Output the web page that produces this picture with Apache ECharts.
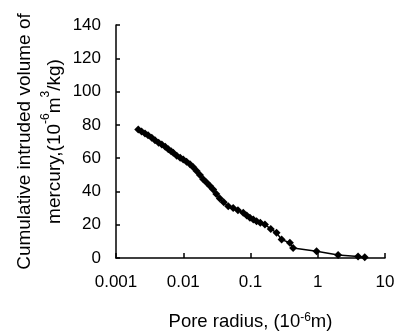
<!DOCTYPE html>
<html>
<head>
<meta charset="utf-8">
<script src="https://cdn.jsdelivr.net/npm/echarts@6/dist/echarts.min.js"></script>
<style>
html,body{margin:0;padding:0;background:#fff;}
#chart{width:394px;height:333px;}
</style>
</head>
<body>
<div id="chart"></div>
<script>
const poreRadius = [0.00214, 0.0024, 0.0027, 0.0030, 0.0034, 0.0038, 0.0043, 0.0048, 0.0054, 0.0060,
  0.0066, 0.0071, 0.0080, 0.0090, 0.010, 0.0112, 0.0126, 0.0141, 0.0158, 0.0177,
  0.0198, 0.0222, 0.0250, 0.0279, 0.031, 0.035, 0.040, 0.0467, 0.0553, 0.065,
  0.078, 0.088, 0.098, 0.11, 0.123, 0.14, 0.164, 0.20, 0.244, 0.29,
  0.385, 0.43, 0.96, 2.01, 3.98, 5.0];
const intrudedVolume = [77.2, 76.0, 74.8, 73.8, 72.2, 70.8, 69.3, 68.2, 66.8, 65.3,
  64.2, 63.2, 61.5, 60.3, 59.2, 57.8, 56.3, 54.5, 52.3, 49.8,
  47.3, 45.3, 43.2, 41.2, 38.5, 35.8, 33.5, 31.1, 30.0, 28.7,
  27.2, 25.5, 24.2, 23.2, 22.1, 21.2, 20.1, 17.5, 15.1, 11.1,
  9.1, 6.0, 4.0, 1.8, 0.9, 0.4];
const xTickLabels = ['0.001', '0.01', '0.1', '1', '10'];
const yTicks = [0, 20, 40, 60, 80, 100, 120, 140];

const data = poreRadius.map((r, i) => [r, intrudedVolume[i]]);
const font = '"Liberation Sans", Arial, sans-serif';

const chart = echarts.init(document.getElementById('chart'), null, {renderer: 'canvas'});
chart.setOption({
  backgroundColor: '#fff',
  animation: false,
  grid: {left: 116, right: 9, top: 25, bottom: 75, containLabel: false, outerBoundsMode: 'none'},
  xAxis: {
    type: 'log', logBase: 10, min: 0.001, max: 10,
    name: 'Pore radius, (10{sup|-6}m)',
    nameLocation: 'middle', nameGap: 54, nameMoveOverlap: false,
    nameTextStyle: {color: '#000', fontSize: 18.5, fontFamily: font,
      rich: {sup: {fontSize: 12, verticalAlign: 'top', fontFamily: font, color: '#000'}}},
    axisLine: {lineStyle: {color: '#000', width: 1.5}},
    axisTick: {inside: true, length: 5, lineStyle: {color: '#000', width: 1.5}},
    minorTick: {show: false},
    splitLine: {show: false},
    axisLabel: {color: '#000', fontSize: 17, fontFamily: font, margin: 16,
      formatter: v => {
        const e = Math.round(Math.log10(v));
        return xTickLabels[e + 3] !== undefined ? xTickLabels[e + 3] : '';
      }}
  },
  yAxis: {
    type: 'value', min: yTicks[0], max: yTicks[yTicks.length - 1], interval: 20,
    name: 'Cumulative intruded volume of\nmercury,(10{sup|-6}m{sup|3}/kg)',
    nameLocation: 'middle', nameGap: 46, nameRotate: 90, nameMoveOverlap: false,
    nameTextStyle: {color: '#000', fontSize: 19, fontFamily: font, lineHeight: 30,
      rich: {sup: {fontSize: 12, verticalAlign: 'top', fontFamily: font, color: '#000'}}},
    axisLine: {show: true, lineStyle: {color: '#000', width: 1.5}},
    axisTick: {show: true, inside: true, length: 4, lineStyle: {color: '#000', width: 1.5}},
    splitLine: {show: false},
    axisLabel: {color: '#000', fontSize: 17, fontFamily: font, margin: 15}
  },
  series: [{
    type: 'line',
    data: data,
    symbol: 'diamond',
    symbolSize: 8,
    showSymbol: true,
    lineStyle: {color: '#000', width: 1.5},
    itemStyle: {color: '#000'}
  }]
});
</script>
</body>
</html>
